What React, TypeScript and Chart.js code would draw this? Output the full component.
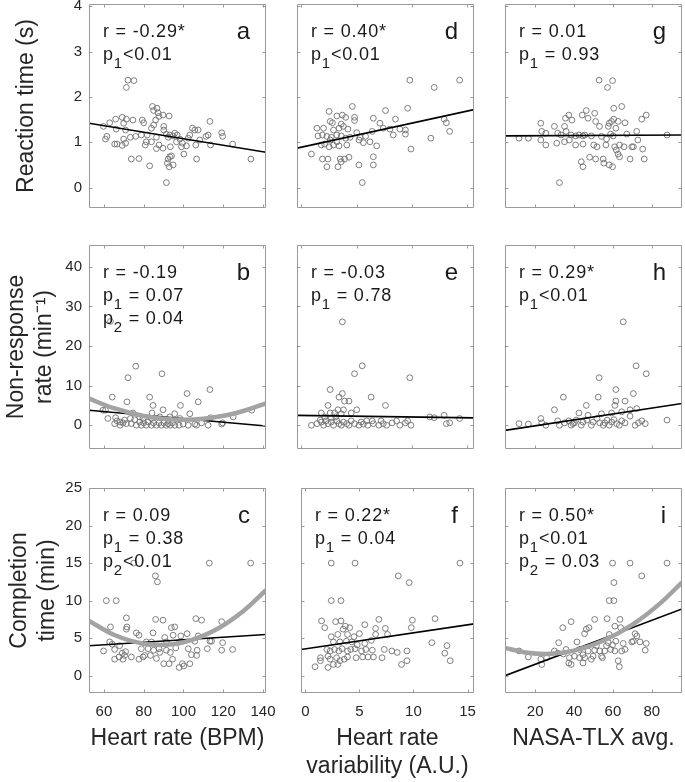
import React, { useEffect, useRef } from 'react';
import { Chart, registerables } from 'chart.js';
Chart.register(...registerables);

type Pt = [number, number];

const FONT = "'Liberation Sans', Arial, Helvetica, sans-serif";
const TXT = '#262626';
const AXIS = '#9a9a9a';

// ---- axis limits, ticks and titles ----
const hrRange: Pt = [52.5, 141.5];
const hrvRange: Pt = [-0.4, 15.6];
const tlxRange: Pt = [4.5, 95.5];
const rtRange: Pt = [-0.45, 4.05];
const nrRange: Pt = [-6, 45.5];
const ctRange: Pt = [-2.3, 25];

const hrTicks = [60, 80, 100, 120, 140];
const hrvTicks = [0, 5, 10, 15];
const tlxTicks = [20, 40, 60, 80];
const rtTicks = [0, 1, 2, 3, 4];
const nrTicks = [0, 10, 20, 30, 40];
const ctTicks = [0, 5, 10, 15, 20, 25];

const xTitles: (string | string[])[] = ['Heart rate (BPM)', ['Heart rate', 'variability (A.U.)'], 'NASA-TLX avg.'];
const yTitles: (string | string[])[] = ['Reaction time (s)', ['Non-response', 'rate (min\u207B\u00B9)'], ['Completion', 'time (min)']];

// ---- scatter data (x, y) per panel ----
const ptsA: Pt[] = [
  [72.1, 2.37], [75.1, 2.36], [71.3, 2.21], [59.8, 1.35], [62.9, 1.43], [65.9, 1.51], [69.2, 1.55], [71.3, 1.51],
  [61.5, 1.13], [60.8, 1.07], [65.4, 0.96], [66.6, 0.96], [69.2, 0.93], [70.9, 0.98], [66.2, 1.29], [69.9, 1.42],
  [70.9, 1.27], [73.8, 0.63], [77.6, 0.64], [69.9, 1.07], [73.3, 1.11], [76.0, 1.13], [74.6, 1.49], [79.3, 1.49],
  [80.0, 1.43], [78.8, 1.16], [80.8, 0.94], [81.8, 1.16], [83.0, 0.48], [83.9, 1.31], [84.4, 1.79], [85.0, 1.70],
  [86.7, 1.75], [87.2, 1.65], [87.7, 1.57], [89.7, 1.60], [92.8, 1.58], [86.0, 1.49], [85.0, 1.38], [90.1, 1.35],
  [90.1, 1.27], [86.4, 1.11], [86.4, 0.86], [87.7, 0.94], [89.7, 0.87], [91.4, 1.18], [92.3, 1.11], [93.1, 1.16],
  [94.8, 1.14], [95.6, 1.20], [96.8, 1.16], [93.4, 0.90], [91.4, 0.11], [92.3, 0.63], [93.1, 0.68], [94.0, 0.70],
  [91.9, 0.54], [92.8, 0.46], [94.8, 0.50], [98.2, 1.07], [99.0, 0.90], [100.2, 0.74], [101.5, 0.92], [99.5, 0.98],
  [102.4, 1.09], [103.2, 1.16], [104.5, 1.31], [105.7, 1.27], [107.4, 1.27], [106.6, 0.63], [106.2, 0.94], [108.2, 1.05],
  [111.3, 1.13], [112.4, 1.16], [113.3, 1.46], [113.6, 0.94], [119.2, 1.21], [119.7, 1.13], [124.7, 0.96], [133.9, 0.63],
  [81.3, 1.01], [83.9, 1.01], [96.5, 1.01],
];
const ptsB: Pt[] = [
  [76.0, 14.9], [72.1, 12.0], [89.2, 13.0], [64.2, 7.1], [71.6, 5.9], [83.0, 7.1], [84.7, 5.0], [89.7, 3.9],
  [84.2, 3.1], [74.6, 3.1], [101.8, 8.0], [98.5, 5.0], [107.4, 5.9], [113.3, 9.0], [103.2, 2.9], [95.6, 2.9],
  [59.5, 3.8], [60.8, 3.8], [62.0, 1.7], [65.9, 1.9], [65.4, 0.4], [66.6, 1.1], [68.2, 0.0], [69.6, 0.6],
  [70.4, 1.3], [71.3, 0.4], [73.3, 1.7], [75.5, 1.4], [78.0, 0.8], [78.8, 0.0], [80.0, 0.6], [81.3, 0.0],
  [82.2, 0.8], [83.9, 0.0], [85.0, 0.6], [86.4, 0.0], [87.7, 0.6], [88.9, 0.0], [90.1, 0.6], [91.4, 0.0],
  [92.3, 0.4], [93.4, 0.0], [94.5, 0.6], [95.6, 0.0], [97.8, 0.0], [99.8, 0.3], [102.4, 0.0], [105.7, 0.3],
  [106.6, 0.0], [109.1, 0.6], [112.4, 0.0], [113.6, 1.9], [119.2, 0.3], [119.7, 0.6], [125.0, 2.1], [134.3, 3.8],
  [78.0, 2.1], [88.1, 2.1], [93.1, 2.1], [98.2, 1.7], [79.7, 1.7], [83.9, 1.7], [68.2, 0.8], [73.8, 0.4],
  [76.3, 0.0], [63.3, 26.2],
];
const ptsC: Pt[] = [
  [113.0, 15.0], [133.8, 15.0], [75.0, 15.0], [85.9, 13.3], [86.9, 12.5], [61.2, 10.0], [66.2, 10.0], [63.3, 6.5],
  [71.3, 7.7], [71.6, 6.5], [71.3, 6.2], [76.3, 5.7], [77.6, 5.4], [86.0, 7.5], [89.7, 7.4], [93.9, 6.4],
  [95.6, 6.5], [84.7, 5.7], [90.6, 5.1], [94.8, 5.4], [98.7, 5.3], [101.8, 5.6], [106.2, 7.6], [109.1, 7.4],
  [107.4, 5.3], [119.2, 7.2], [64.2, 4.2], [59.8, 3.3], [65.4, 3.5], [65.4, 2.2], [67.6, 2.5], [69.2, 3.0],
  [69.6, 2.2], [70.4, 2.7], [70.9, 3.2], [73.8, 2.5], [77.6, 2.2], [78.8, 3.6], [79.7, 2.5], [80.5, 2.7],
  [82.2, 3.6], [83.4, 2.7], [85.0, 3.4], [86.4, 2.3], [87.7, 3.6], [88.1, 3.1], [90.1, 1.6], [91.4, 3.4],
  [92.8, 1.6], [93.4, 3.1], [94.5, 2.2], [96.1, 3.7], [97.8, 1.1], [99.5, 1.6], [100.2, 1.3], [102.4, 3.6],
  [103.2, 1.6], [104.0, 2.8], [106.6, 2.7], [106.9, 3.4], [112.0, 3.6], [113.3, 4.6], [114.1, 4.6], [119.2, 3.4],
  [119.7, 4.4], [124.7, 3.5], [81.3, 4.5], [83.9, 4.5], [91.4, 4.5], [98.2, 4.5], [105.7, 4.6], [67.9, 4.0],
  [62.9, 4.5],
];
const ptsD: Pt[] = [
  [9.8, 2.37], [12.0, 2.21], [14.3, 2.37], [4.6, 1.79], [7.6, 1.70], [9.6, 1.75], [2.5, 1.68], [3.2, 1.58],
  [3.7, 1.60], [4.0, 1.55], [4.8, 1.55], [2.6, 1.46], [2.8, 1.43], [3.6, 1.40], [3.8, 1.35], [6.5, 1.53],
  [7.1, 1.42], [8.5, 1.51], [4.8, 1.48], [12.9, 1.51], [13.1, 1.43], [13.4, 1.24], [1.4, 1.31], [2.0, 1.31],
  [2.9, 1.27], [3.4, 1.31], [4.2, 1.29], [5.0, 1.21], [6.4, 1.24], [7.4, 1.31], [8.0, 1.29], [8.9, 1.29],
  [9.4, 1.27], [8.3, 1.16], [9.4, 1.18], [1.5, 1.14], [1.9, 1.16], [2.3, 1.13], [2.7, 1.11], [3.2, 1.16],
  [3.6, 1.14], [4.0, 1.09], [4.4, 1.11], [5.3, 1.11], [5.8, 1.13], [1.8, 0.94], [2.1, 0.96], [2.5, 0.90],
  [2.9, 0.94], [3.4, 0.92], [4.1, 0.94], [5.2, 1.05], [5.6, 0.99], [6.2, 1.01], [6.8, 0.92], [11.7, 1.09],
  [9.9, 0.85], [0.9, 0.74], [1.9, 0.63], [2.4, 0.63], [2.3, 0.46], [3.3, 0.46], [3.5, 0.63], [3.6, 0.57],
  [3.9, 0.63], [4.3, 0.67], [5.2, 0.50], [6.5, 0.68], [6.5, 0.50], [5.5, 0.11], [2.6, 1.05], [3.2, 1.01],
];
const ptsE: Pt[] = [
  [3.7, 26.1], [5.5, 15.0], [4.8, 13.0], [9.8, 12.0], [2.6, 9.0], [3.7, 8.0], [3.4, 7.1], [6.3, 7.1],
  [3.9, 6.1], [4.3, 6.1], [7.6, 5.0], [2.4, 5.0], [3.3, 3.9], [3.8, 3.9], [5.0, 3.9], [1.8, 3.1],
  [2.6, 3.1], [3.0, 3.1], [3.6, 2.9], [4.5, 3.1], [2.1, 2.1], [2.7, 1.9], [3.1, 2.1], [11.6, 2.1],
  [12.0, 1.9], [12.9, 2.5], [14.3, 1.7], [0.9, 0.0], [1.4, 0.4], [1.8, 0.8], [2.0, 0.0], [2.2, 1.1],
  [2.4, 0.4], [2.7, 0.8], [2.9, 0.0], [3.2, 1.1], [3.4, 0.4], [3.6, 0.0], [3.8, 0.8], [4.1, 0.4],
  [4.3, 0.0], [4.5, 1.1], [4.8, 0.4], [5.2, 0.0], [5.4, 0.8], [5.6, 0.3], [6.0, 0.0], [6.4, 1.1],
  [6.5, 0.4], [7.0, 0.0], [7.2, 1.1], [7.4, 0.4], [7.7, 0.0], [8.2, 0.6], [8.6, 1.1], [8.9, 0.0],
  [9.4, 0.6], [9.6, 1.1], [9.9, 0.0], [13.1, 0.4], [13.4, 0.6], [1.7, 1.3], [5.9, 1.1],
];
const ptsF: Pt[] = [
  [2.4, 15.0], [4.6, 15.0], [14.3, 15.0], [8.6, 13.3], [9.6, 12.4], [2.4, 10.0], [3.3, 10.0], [1.5, 7.3],
  [1.8, 6.4], [2.8, 7.2], [3.3, 7.3], [3.5, 6.2], [3.7, 6.6], [4.1, 6.4], [5.5, 6.8], [6.8, 7.5],
  [9.9, 7.4], [12.0, 7.6], [9.8, 6.4], [6.5, 6.3], [7.4, 6.3], [7.6, 5.5], [6.5, 5.5], [2.4, 5.2],
  [3.0, 5.5], [3.9, 5.5], [4.5, 5.2], [5.0, 5.6], [2.6, 4.5], [3.2, 4.5], [3.8, 4.6], [4.3, 4.5],
  [4.8, 4.1], [5.5, 4.3], [6.1, 4.7], [2.0, 3.5], [2.3, 3.3], [2.7, 3.5], [3.1, 3.3], [3.4, 3.6],
  [3.9, 3.3], [4.2, 3.5], [4.6, 3.6], [5.2, 3.3], [5.6, 3.5], [6.2, 3.4], [7.3, 3.5], [8.0, 3.3],
  [8.5, 3.1], [9.4, 3.3], [11.7, 4.4], [13.1, 4.0], [12.9, 3.0], [13.4, 2.0], [1.4, 2.4], [1.4, 2.0],
  [2.1, 2.6], [2.3, 2.2], [2.9, 2.4], [3.2, 2.0], [3.6, 2.2], [3.9, 2.5], [4.7, 2.4], [5.3, 2.5],
  [5.8, 2.5], [6.3, 2.5], [7.1, 2.4], [0.9, 1.2], [2.1, 1.1], [2.6, 1.5], [3.0, 1.5], [8.9, 1.5],
  [9.4, 2.0],
];
const ptsG: Pt[] = [
  [52.9, 2.37], [59.8, 2.36], [57.2, 2.21], [32.5, 0.11], [11.7, 1.09], [16.5, 1.09], [22.9, 1.42], [23.4, 1.24],
  [25.5, 1.20], [22.9, 1.05], [25.5, 0.94], [29.9, 1.35], [31.1, 0.98], [35.6, 1.53], [37.3, 1.60], [35.1, 1.35],
  [35.9, 1.24], [38.9, 1.49], [35.1, 1.01], [37.6, 1.05], [38.5, 1.16], [40.8, 1.14], [40.8, 0.94], [44.2, 1.60],
  [46.3, 1.70], [47.2, 1.53], [42.5, 1.16], [44.6, 1.14], [45.5, 1.16], [44.6, 0.96], [48.9, 1.14], [50.1, 0.94],
  [43.7, 0.57], [44.6, 0.46], [48.0, 0.67], [51.1, 0.63], [50.6, 1.64], [51.1, 1.46], [53.1, 1.35], [51.8, 0.90],
  [54.1, 1.13], [55.0, 0.63], [55.3, 0.54], [56.4, 0.94], [56.7, 1.07], [57.6, 1.35], [58.1, 1.42], [59.3, 1.46],
  [58.1, 0.50], [59.8, 0.46], [58.8, 1.18], [60.1, 1.14], [60.4, 1.75], [64.5, 1.79], [60.4, 1.51], [61.5, 1.31],
  [62.7, 1.46], [60.9, 0.90], [61.7, 0.83], [62.6, 0.74], [63.4, 0.68], [63.4, 0.94], [66.2, 1.43], [67.1, 1.18],
  [65.7, 0.90], [68.8, 0.63], [69.7, 0.90], [70.5, 0.90], [72.2, 1.24], [72.8, 1.05], [74.8, 1.51], [77.1, 1.60],
  [75.3, 0.85], [76.1, 0.63], [87.8, 1.16], [33.3, 1.16], [31.6, 1.20],
];
const ptsH: Pt[] = [
  [65.3, 26.1], [71.9, 15.0], [77.1, 13.0], [52.9, 12.0], [61.5, 9.0], [34.5, 7.1], [52.4, 7.1], [70.5, 8.0],
  [46.3, 5.0], [61.5, 6.1], [66.2, 6.1], [29.9, 3.9], [42.5, 3.1], [68.8, 3.9], [72.2, 4.2], [61.0, 5.0],
  [47.2, 2.5], [54.1, 2.9], [59.3, 3.1], [64.5, 3.4], [68.8, 2.3], [11.7, 0.4], [16.5, 0.3], [22.9, 1.7],
  [23.4, 0.6], [25.5, 0.0], [31.6, 1.1], [32.5, 0.0], [35.1, 0.6], [37.3, 1.1], [38.5, 0.0], [40.2, 0.6],
  [41.1, 1.3], [43.7, 0.0], [44.6, 0.8], [46.6, 1.3], [48.9, 0.0], [49.8, 0.8], [51.8, 1.7], [55.0, 0.0],
  [55.8, 0.6], [57.0, 1.3], [58.1, 0.0], [59.3, 0.8], [60.5, 1.4], [61.9, 0.4], [63.3, 0.0], [64.5, 1.1],
  [66.2, 0.6], [71.4, 0.0], [73.1, 0.6], [74.8, 1.1], [76.6, 0.4], [87.8, 1.3], [39.4, 0.4], [53.2, 0.6],
];
const ptsI: Pt[] = [
  [59.8, 15.0], [68.8, 15.0], [87.8, 15.0], [74.8, 13.3], [60.5, 12.4], [58.1, 10.0], [60.5, 10.0], [11.7, 3.3],
  [16.5, 2.5], [23.4, 1.5], [22.9, 2.2], [25.9, 2.4], [32.1, 4.4], [34.2, 6.4], [38.5, 7.2], [41.5, 4.5],
  [45.4, 5.6], [46.3, 6.2], [47.7, 6.4], [50.6, 7.5], [57.0, 7.6], [58.1, 5.5], [61.0, 6.6], [63.6, 7.5],
  [64.0, 6.4], [71.4, 5.6], [72.3, 5.3], [70.5, 4.6], [73.9, 4.5], [77.1, 4.3], [76.6, 3.4], [69.7, 4.5],
  [29.9, 3.3], [31.6, 3.0], [35.9, 3.5], [37.6, 2.4], [37.3, 1.7], [38.5, 1.5], [40.2, 2.6], [42.8, 2.4],
  [44.6, 2.8], [44.6, 1.7], [45.5, 2.4], [47.2, 3.3], [48.9, 2.2], [50.6, 3.4], [51.5, 4.0], [53.2, 3.3],
  [54.1, 2.6], [54.6, 2.4], [55.8, 3.3], [56.7, 4.0], [57.6, 4.4], [58.8, 3.5], [59.8, 4.1], [61.0, 3.3],
  [61.5, 4.6], [62.7, 2.0], [63.3, 1.2], [64.5, 3.3], [66.2, 3.5], [65.3, 4.3], [34.5, 2.9], [42.8, 3.5],
  [49.8, 2.6],
];

// ---- linear fits (end points) ----
const fitA: Pt[] = [[52.5, 1.42], [141.5, 0.78]];
const fitB: Pt[] = [[52.5, 3.8], [141.5, -0.2]];
const fitC: Pt[] = [[52.5, 4.0], [141.5, 5.5]];
const fitD: Pt[] = [[-0.4, 0.87], [15.6, 1.72]];
const fitE: Pt[] = [[-0.4, 2.5], [15.6, 1.85]];
const fitF: Pt[] = [[-0.4, 3.5], [15.6, 6.9]];
const fitG: Pt[] = [[4.5, 1.14], [95.5, 1.16]];
const fitH: Pt[] = [[4.5, -1.3], [95.5, 5.5]];
const fitI: Pt[] = [[4.5, 0.0], [95.5, 8.9]];

// ---- quadratic fits ----
const quadB: Pt[] = [[52.5, 6.7], [65, 4.3], [80, 2.35], [95, 1.45], [100, 1.4], [110, 1.65], [125, 2.9], [141.5, 5.5]];
const quadC: Pt[] = [[52.5, 7.3], [65, 5.45], [80, 4.25], [88, 4.1], [100, 4.45], [115, 5.95], [130, 8.6], [141.5, 11.4]];
const quadI: Pt[] = [[4.5, 3.7], [15, 3.1], [25, 2.9], [40, 3.35], [55, 4.65], [70, 6.8], [85, 9.8], [95.5, 12.45]];

// ---- annotations ("main|sub|rest") ----
const notesA = ['r = -0.29*', 'p|1|<0.01'];
const notesB = ['r = -0.19', 'p|1| = 0.07', 'p|2| = 0.04'];
const notesC = ['r = 0.09', 'p|1| = 0.38', 'p|2|<0.01'];
const notesD = ['r = 0.40*', 'p|1|<0.01'];
const notesE = ['r = -0.03', 'p|1| = 0.78'];
const notesF = ['r = 0.22*', 'p|1| = 0.04'];
const notesG = ['r = 0.01', 'p|1| = 0.93'];
const notesH = ['r = 0.29*', 'p|1|<0.01'];
const notesI = ['r = 0.50*', 'p|1|<0.01', 'p|2| = 0.03'];

interface PanelCfg {
  col: number;
  row: number;
  letter: string;
  pts: Pt[];
  fit: Pt[];
  quad?: Pt[];
  notes: string[];
}

const PANELS: PanelCfg[] = [
  { col: 0, row: 0, letter: 'a', pts: ptsA, fit: fitA, notes: notesA },
  { col: 0, row: 1, letter: 'b', pts: ptsB, fit: fitB, quad: quadB, notes: notesB },
  { col: 0, row: 2, letter: 'c', pts: ptsC, fit: fitC, quad: quadC, notes: notesC },
  { col: 1, row: 0, letter: 'd', pts: ptsD, fit: fitD, notes: notesD },
  { col: 1, row: 1, letter: 'e', pts: ptsE, fit: fitE, notes: notesE },
  { col: 1, row: 2, letter: 'f', pts: ptsF, fit: fitF, notes: notesF },
  { col: 2, row: 0, letter: 'g', pts: ptsG, fit: fitG, notes: notesG },
  { col: 2, row: 1, letter: 'h', pts: ptsH, fit: fitH, notes: notesH },
  { col: 2, row: 2, letter: 'i', pts: ptsI, fit: fitI, quad: quadI, notes: notesI },
];

const X_RANGES = [hrRange, hrvRange, tlxRange];
const X_TICKS = [hrTicks, hrvTicks, tlxTicks];
const Y_RANGES = [rtRange, nrRange, ctRange];
const Y_TICKS = [rtTicks, nrTicks, ctTicks];

// layout (pixels)
const COL_LEFT = [89, 297, 505];
const PW = 177;
const ROW_TOP = [4, 245, 488];
const ROW_H = [204, 204, 205];
const PAGE_H = 782;
const PAD_T = 24;
const PAD_R = 20;
const Y_TITLE_PAD = [13.2, 3.1, 5.9];
const X_TITLE_PAD = [29.2, 1.6, 29.2];

function Panel({ cfg }: { cfg: PanelCfg }) {
  const ref = useRef<HTMLCanvasElement>(null);
  const { col, row } = cfg;
  const L = col === 0 ? COL_LEFT[0] : 6;
  const B = row === 2 ? PAGE_H - (ROW_TOP[2] + ROW_H[2]) : 24;
  const w = L + PW + PAD_R;
  const h = PAD_T + ROW_H[row] + B;

  useEffect(() => {
    const canvas = ref.current;
    if (!canvas) return;
    const xt = X_TICKS[col];
    const yt = Y_TICKS[row];

    const frame = {
      id: 'frame' + cfg.letter,
      afterDatasetsDraw(chart: any) {
        const { ctx, chartArea: a, scales } = chart;
        ctx.save();
        ctx.strokeStyle = AXIS;
        ctx.lineWidth = 1;
        ctx.beginPath();
        const l = Math.round(a.left) + 0.5;
        const r = Math.round(a.right) - 0.5;
        const t = Math.round(a.top) + 0.5;
        const b = Math.round(a.bottom) - 0.5;
        ctx.rect(l, t, r - l, b - t);
        const TL = 3;
        xt.forEach((v) => {
          const px = Math.round(scales.x.getPixelForValue(v)) + 0.5;
          ctx.moveTo(px, b);
          ctx.lineTo(px, b - TL);
          ctx.moveTo(px, t);
          ctx.lineTo(px, t + TL);
        });
        yt.forEach((v) => {
          const py = Math.round(scales.y.getPixelForValue(v)) + 0.5;
          ctx.moveTo(l, py);
          ctx.lineTo(l + TL, py);
          ctx.moveTo(r, py);
          ctx.lineTo(r - TL, py);
        });
        ctx.stroke();

        // annotation text
        ctx.fillStyle = '#1a1a1a';
        ctx.textBaseline = 'alphabetic';
        ctx.textAlign = 'left';
        try { (ctx as any).letterSpacing = '0.8px'; } catch (e) { /* ignore */ }
        cfg.notes.forEach((line, i) => {
          const y = a.top + 33 + i * 23;
          let x = a.left + 14;
          const parts = line.split('|');
          ctx.font = `18px ${FONT}`;
          ctx.fillText(parts[0], x, y);
          x += ctx.measureText(parts[0]).width;
          if (parts.length > 1) {
            ctx.font = `15px ${FONT}`;
            ctx.fillText(parts[1], x, y + 8);
            x += ctx.measureText(parts[1]).width;
            ctx.font = `18px ${FONT}`;
            ctx.fillText(parts[2], x, y);
          }
        });
        try { (ctx as any).letterSpacing = '0px'; } catch (e) { /* ignore */ }
        ctx.font = `24px ${FONT}`;
        ctx.textAlign = 'right';
        ctx.fillText(cfg.letter, a.right - 16, a.top + 35);
        ctx.restore();
      },
    };

    const datasets: any[] = [
      {
        type: 'scatter',
        data: cfg.pts.map(([x, y]) => ({ x, y })),
        pointRadius: 2.9,
        pointBorderWidth: 0.9,
        pointBorderColor: '#707070',
        pointBackgroundColor: 'rgba(0,0,0,0)',
        showLine: false,
        order: 3,
      },
      {
        type: 'line',
        data: cfg.fit.map(([x, y]) => ({ x, y })),
        borderColor: '#000000',
        borderWidth: 1.6,
        pointRadius: 0,
        fill: false,
        clip: 0,
        order: 2,
      },
    ];
    if (cfg.quad) {
      datasets.push({
        type: 'line',
        data: cfg.quad.map(([x, y]) => ({ x, y })),
        borderColor: '#a3a3a3',
        borderWidth: 4.5,
        pointRadius: 0,
        fill: false,
        cubicInterpolationMode: 'monotone',
        clip: 0,
        order: 1,
      });
    }

    const chart = new Chart(canvas, {
      type: 'scatter',
      data: { datasets },
      options: {
        animation: false,
        responsive: false,
        devicePixelRatio: 1,
        events: [],
        layout: { padding: { left: 0, top: PAD_T, right: PAD_R, bottom: 0 } },
        plugins: { legend: { display: false }, tooltip: { enabled: false } },
        scales: {
          x: {
            type: 'linear',
            position: 'bottom',
            min: X_RANGES[col][0],
            max: X_RANGES[col][1],
            grid: { display: false, drawTicks: false },
            border: { display: false },
            afterBuildTicks: (s: any) => { s.ticks = xt.map((v) => ({ value: v })); },
            afterFit: (s: any) => { s.height = B; },
            ticks: {
              display: row === 2,
              padding: 10,
              color: TXT,
              font: { family: FONT, size: 15 },
              maxRotation: 0,
              autoSkip: false,
            },
            title: {
              display: row === 2,
              text: xTitles[col] as any,
              color: TXT,
              font: { family: FONT, size: 23, lineHeight: 1.2 },
              padding: { top: 0, bottom: X_TITLE_PAD[col] },
            },
          },
          y: {
            type: 'linear',
            position: 'left',
            min: Y_RANGES[row][0],
            max: Y_RANGES[row][1],
            grid: { display: false, drawTicks: false },
            border: { display: false },
            afterBuildTicks: (s: any) => { s.ticks = yt.map((v) => ({ value: v })); },
            afterFit: (s: any) => { s.width = L; },
            ticks: {
              display: col === 0,
              padding: 7,
              color: TXT,
              font: { family: FONT, size: 15 },
              autoSkip: false,
            },
            title: {
              display: col === 0,
              text: yTitles[row] as any,
              color: TXT,
              font: { family: FONT, size: 23, lineHeight: 1.2 },
              padding: { top: Y_TITLE_PAD[row], bottom: 0 },
            },
          },
        },
      } as any,
      plugins: [frame],
    });
    return () => chart.destroy();
  }, [cfg]);

  return (
    <canvas
      ref={ref}
      width={w}
      height={h}
      style={{
        position: 'absolute',
        left: COL_LEFT[col] - L,
        top: ROW_TOP[row] - PAD_T,
        width: w,
        height: h,
      }}
    />
  );
}

export default function App() {
  return (
    <div
      style={{
        position: 'absolute',
        left: 0,
        top: 0,
        width: 685,
        height: 782,
        background: '#ffffff',
        overflow: 'hidden',
      }}
    >
      {PANELS.map((p) => (
        <Panel key={p.letter} cfg={p} />
      ))}
    </div>
  );
}
